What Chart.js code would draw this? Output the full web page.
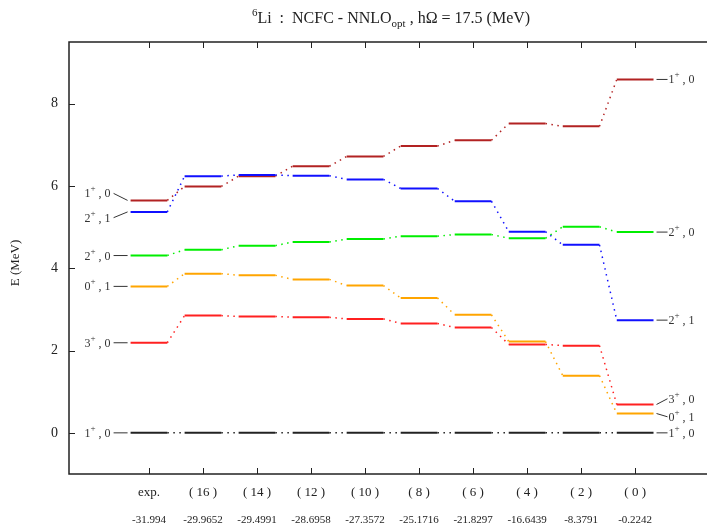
<!DOCTYPE html>
<html>
<head>
<meta charset="utf-8">
<script src="https://cdn.jsdelivr.net/npm/chart.js@4.4.0/dist/chart.umd.min.js"></script>
<style>
  html, body { margin: 0; padding: 0; background: #fff; }
</style>
</head>
<body>
<canvas id="chart1" width="707" height="528"></canvas>
<script>
// columns along the x axis (Nmax truncations) and their ground state energies
const columns = ['exp.', '( 16 )', '( 14 )', '( 12 )', '( 10 )', '( 8 )', '( 6 )', '( 4 )', '( 2 )', '( 0 )'];
const groundEnergies = ['-31.994', '-29.9652', '-29.4991', '-28.6958', '-27.3572', '-25.1716', '-21.8297', '-16.6439', '-8.3791', '-0.2242'];
const yTicks = [0, 2, 4, 6, 8];

// excitation energies (MeV) per state
const gs1p0  = [0, 0, 0, 0, 0, 0, 0, 0, 0, 0];
const ex3p0  = [2.19, 2.85, 2.83, 2.81, 2.77, 2.66, 2.56, 2.15, 2.12, 0.69];
const ex0p1  = [3.56, 3.87, 3.83, 3.73, 3.58, 3.28, 2.87, 2.22, 1.39, 0.47];
const ex2p0  = [4.31, 4.45, 4.55, 4.64, 4.71, 4.78, 4.82, 4.73, 5.01, 4.88];
const ex2p1  = [5.37, 6.24, 6.27, 6.25, 6.16, 5.94, 5.63, 4.89, 4.57, 2.74];
const ex1p0  = [5.65, 5.99, 6.24, 6.48, 6.72, 6.97, 7.11, 7.52, 7.45, 8.59];

// state labels J^pi , T  and where their names sit (left = exp., right = (0))
const stateJ = ['1', '3', '0', '2', '2', '1'];
const stateT = ['0', '0', '1', '0', '1', '0'];
const leftLabelY  = [0, 2.19, 3.56, 4.31, 5.23, 5.82];
const rightLabelY = [0, 0.83, 0.39, 4.88, 2.74, 8.59];

const levels = [gs1p0, ex3p0, ex0p1, ex2p0, ex2p1, ex1p0];
const colors = ['#222222', '#ff2020', '#ffa500', '#00ee00', '#1010ff', '#b22222'];

const halfWidth = 0.34;
const serif = '"Liberation Serif", "Times New Roman", serif';

// each level is a short horizontal segment, joined to the next one by a dotted line
const toPoints = (vals) => {
    const pts = [];
    vals.forEach((v, i) => {
        pts.push({x: i - halfWidth, y: v});
        pts.push({x: i + halfWidth, y: v});
    });
    return pts;
};

const datasets = levels.map((vals, k) => ({
    label: stateJ[k] + '+,' + stateT[k],
    data: toPoints(vals),
    borderColor: colors[k],
    borderWidth: 2,
    pointRadius: 0,
    tension: 0,
    borderCapStyle: 'butt',
    segment: {
        borderDash: ctx => ctx.p0DataIndex % 2 === 1 ? [1.5, 4.5] : undefined,
        borderWidth: ctx => ctx.p0DataIndex % 2 === 1 ? 1.5 : 2
    }
}));

function drawStateLabel(c, x, y, j, t, align) {
    c.font = '12px ' + serif;
    const w1 = c.measureText(j).width;
    const rest = ' , ' + t;
    const w3 = c.measureText(rest).width;
    c.font = '9px ' + serif;
    const w2 = c.measureText('+').width;
    const x0 = align === 'right' ? x - (w1 + w2 + w3) : x;
    c.textAlign = 'left';
    c.textBaseline = 'alphabetic';
    c.font = '12px ' + serif;
    c.fillText(j, x0, y + 4);
    c.fillText(rest, x0 + w1 + w2, y + 4);
    c.font = '9px ' + serif;
    c.fillText('+', x0 + w1, y - 2);
}

const framePlugin = {
    id: 'frame',
    afterDraw(chart) {
        const c = chart.ctx;
        const a = chart.chartArea;
        const xs = chart.scales.x;
        const ys = chart.scales.y;
        c.save();
        c.strokeStyle = '#222';
        c.fillStyle = '#222';
        c.lineWidth = 1.5;
        c.strokeRect(a.left, a.top, a.right - a.left + 5, a.bottom - a.top);

        // ticks, pointing inwards
        c.lineWidth = 1;
        c.beginPath();
        columns.forEach((lab, i) => {
            const x = Math.round(xs.getPixelForValue(i)) + 0.5;
            c.moveTo(x, a.bottom); c.lineTo(x, a.bottom - 6);
            c.moveTo(x, a.top); c.lineTo(x, a.top + 6);
        });
        yTicks.forEach(v => {
            const y = Math.round(ys.getPixelForValue(v)) + 0.5;
            c.moveTo(a.left, y); c.lineTo(a.left + 6, y);
        });
        c.stroke();

        // y tick labels
        c.font = '14px ' + serif;
        c.textAlign = 'right';
        c.textBaseline = 'middle';
        yTicks.forEach(v => c.fillText(String(v), a.left - 11, ys.getPixelForValue(v)));

        // x labels, two rows
        c.textAlign = 'center';
        columns.forEach((lab, i) => {
            const x = xs.getPixelForValue(i);
            c.font = '13px ' + serif;
            c.fillText(lab, x, a.bottom + 19);
            c.font = '11px ' + serif;
            c.fillText(groundEnergies[i], x, a.bottom + 46);
        });

        // y axis title
        c.save();
        c.translate(16, (a.top + a.bottom) / 2 + 5);
        c.rotate(-Math.PI / 2);
        c.font = '13px ' + serif;
        c.fillText('E (MeV)', 0, 0);
        c.restore();

        // title with super/subscripts
        const parts = [
            {t: '6', f: 11, dy: -7},
            {t: 'Li  :  NCFC - NNLO', f: 16, dy: 0},
            {t: 'opt', f: 11, dy: 4},
            {t: ' , h\u03A9 = 17.5 (MeV)', f: 16, dy: 0}
        ];
        let total = 0;
        parts.forEach(p => { c.font = p.f + 'px ' + serif; p.w = c.measureText(p.t).width; total += p.w; });
        let tx = (a.left + a.right) / 2 + 3 - total / 2;
        c.textAlign = 'left';
        c.textBaseline = 'alphabetic';
        parts.forEach(p => {
            c.font = p.f + 'px ' + serif;
            c.fillText(p.t, tx, 23 + p.dy);
            tx += p.w;
        });

        // state labels with leader lines
        c.fillStyle = '#333';
        c.strokeStyle = '#333';
        c.lineWidth = 1;
        levels.forEach((vals, k) => {
            const lx = xs.getPixelForValue(0 - halfWidth);
            const ly = ys.getPixelForValue(vals[0]);
            const ty = ys.getPixelForValue(leftLabelY[k]);
            c.beginPath();
            c.moveTo(lx - 3, ly);
            c.lineTo(lx - 17, ty);
            c.stroke();
            drawStateLabel(c, lx - 20, ty, stateJ[k], stateT[k], 'right');

            const n = vals.length - 1;
            const rx = xs.getPixelForValue(n + halfWidth);
            const ry = ys.getPixelForValue(vals[n]);
            const sy = ys.getPixelForValue(rightLabelY[k]);
            c.beginPath();
            c.moveTo(rx + 3, ry);
            c.lineTo(rx + 14, sy);
            c.stroke();
            drawStateLabel(c, rx + 15, sy, stateJ[k], stateT[k], 'left');
        });
        c.restore();
    }
};

const ctx = document.querySelector('#chart1');

new Chart(ctx, {
    type: 'line',
    data: { datasets },
    options: {
        responsive: false,
        animation: false,
        devicePixelRatio: 1,
        layout: { padding: { left: 69, top: 42, right: 0, bottom: 54 } },
        plugins: {
            legend: { display: false },
            tooltip: { enabled: false }
        },
        scales: {
            x: { type: 'linear', min: -1.48, max: 10.33, display: false },
            y: { type: 'linear', min: -1, max: 9.5, display: false }
        }
    },
    plugins: [framePlugin]
});
</script>
</body>
</html>
